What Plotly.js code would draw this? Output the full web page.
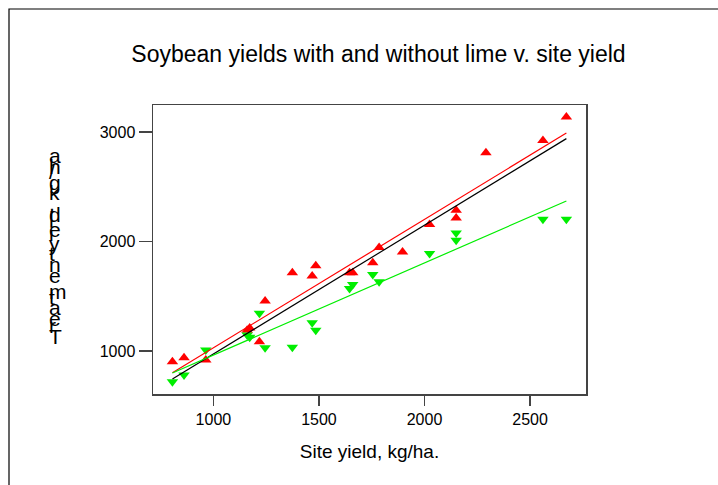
<!DOCTYPE html>
<html>
<head>
<meta charset="utf-8">
<script src="https://cdn.plot.ly/plotly-3.0.1.min.js"></script>
<style>
  html, body { margin: 0; padding: 0; background: #fff; }
  #chart { width: 718px; height: 485px; }
</style>
</head>
<body>
<div id="chart"></div>
<script>
// ---- data ----
const siteYield   = [806, 861, 964, 1160, 1172, 1218, 1245, 1374, 1468, 1485, 1645, 1660, 1755, 1785, 1896, 2024, 2150, 2150, 2291, 2561, 2672];
const withLime    = [902, 939, 918, 1190, 1210, 1085, 1458, 1714, 1686, 1778, 1714, 1714, 1805, 1945, 1905, 2155, 2285, 2215, 2811, 2923, 3136];
const withoutLime = [720, 781, 1009, 1146, 1125, 1344, 1030, 1034, 1258, 1191, 1571, 1608, 1699, 1632, null, 1890, 2078, 2012, null, 2203, 2203];

const fitX        = [806, 2672];
const fitWithLime = [802, 2990];
const fitAll      = [745, 2939];
const fitNoLime   = [800, 2370];

const xTicks = [1000, 1500, 2000, 2500];
const yTicks = [1000, 2000, 3000];

const titleText  = "Soybean yields with and without lime v. site yield";
const xTitleText = "Site yield, kg/ha.";
const yTitleText = "Treatment yield, kg/ha";

// ---- layout geometry ----
const W = 718, H = 485;
const M = { l: 153, r: 132, t: 105, b: 91 };
const pw = W - M.l - M.r, ph = H - M.t - M.b;
const px = x => (x - M.l) / pw;
const py = y => (H - M.b - y) / ph;

const FONT = "Liberation Sans, Arial, sans-serif";
const axisCol = "#444";

// stacked (garbled) y-axis title, one upright glyph per character
const advance = {"T":.611,"r":.333,"e":.556,"a":.556,"t":.278,"m":.833,"n":.556," ":.278,"y":.5,"i":.222,"l":.222,"d":.556,",":.278,"k":.5,"g":.556,"/":.278,"h":.556};
const yFs = 21, emPx = 19.4, base = 345;
const yTitleAnn = [];
let cum = 0;
for (const ch of yTitleText) {
  const baseline = base - cum * emPx;
  if (ch !== " ") {
    yTitleAnn.push({
      text: ch, xref: "paper", yref: "paper",
      x: px(47), y: py(baseline + 0.21 * yFs + 1),
      xanchor: "left", yanchor: "bottom", showarrow: false,
      font: { family: FONT, size: yFs, color: "#000" }
    });
  }
  cum += advance[ch] || 0.5;
}

const traces = [
  { x: siteYield, y: withLime, mode: "markers", type: "scatter", name: "with lime",
    marker: { symbol: "triangle-up", size: 10, color: "#ff0000" } },
  { x: siteYield, y: withoutLime, mode: "markers", type: "scatter", name: "without lime",
    marker: { symbol: "triangle-down", size: 10, color: "#00ee00" } },
  { x: fitX, y: fitWithLime, mode: "lines", type: "scatter", line: { color: "#ff0000", width: 1.2 } },
  { x: fitX, y: fitAll, mode: "lines", type: "scatter", line: { color: "#000000", width: 1.2 } },
  { x: fitX, y: fitNoLime, mode: "lines", type: "scatter", line: { color: "#00ee00", width: 1.2 } }
];

const layout = {
  width: W, height: H,
  margin: M,
  paper_bgcolor: "#fff", plot_bgcolor: "#fff",
  showlegend: false,
  font: { family: FONT, color: "#000" },
  title: { text: titleText, font: { family: FONT, size: 23, color: "#000" },
           xref: "container", yref: "container", x: 378.5 / W, xanchor: "center",
           y: 1 - 54 / H, yanchor: "middle" },
  xaxis: {
    range: [714, 2765], tickvals: xTicks, ticktext: xTicks.map(String),
    showgrid: false, zeroline: false,
    showline: true, mirror: true, linecolor: axisCol, linewidth: 1.5,
    ticks: "outside", ticklen: 10, tickwidth: 1.5, tickcolor: axisCol,
    tickfont: { family: FONT, size: 16, color: "#000" },
    title: { text: xTitleText, font: { family: FONT, size: 19, color: "#000" }, standoff: 18 }
  },
  yaxis: {
    range: [608, 3246], tickvals: yTicks, ticktext: yTicks.map(String),
    showgrid: false, zeroline: false,
    showline: true, mirror: true, linecolor: axisCol, linewidth: 1.5,
    ticks: "outside", ticklen: 13, tickwidth: 1.5, tickcolor: axisCol,
    tickfont: { family: FONT, size: 16, color: "#000" }
  },
  shapes: [
    { type: "rect", xref: "paper", yref: "paper",
      x0: px(9), x1: px(740), y0: py(500), y1: py(9),
      line: { color: "#000", width: 1.2 }, fillcolor: "rgba(0,0,0,0)", layer: "below" }
  ],
  annotations: yTitleAnn
};

Plotly.newPlot("chart", traces, layout, { displayModeBar: false, staticPlot: true });
</script>
</body>
</html>
